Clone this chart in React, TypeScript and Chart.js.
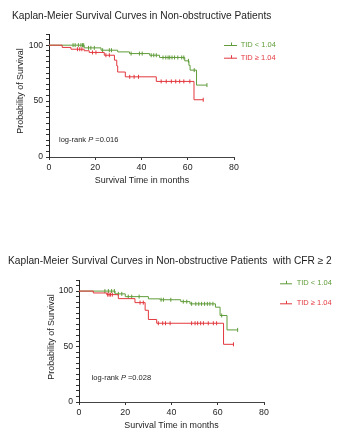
import React, { useEffect, useRef } from "react";
import { Chart, registerables } from "chart.js";

Chart.register(...registerables);

const FONT = '"Liberation Sans", Arial, Helvetica, sans-serif';
const GREEN = "rgb(96,156,58)";
const RED = "rgb(226,56,62)";
const TEXT = "#1e1e1e";

// ---------- shared axis data ----------
const xTickValues = [0, 20, 40, 60, 80];
const yLabelValues = [0, 50, 100];
const seriesLabels = ["TID < 1.04", "TID \u2265 1.04"];
const xAxisTitle = "Survival Time in months";
const yAxisTitle = "Probability of Survival";

// ---------- chart 1: Non-obstructive patients ----------
const title1 = "Kaplan-Meier Survival Curves in Non-obstructive Patients";
const logRank1 = "0.016";
const c1LowTimes = [0, 15.2, 22.5, 29.7, 34.8, 43.5, 47.8, 58.7, 60.5, 61, 63.8, 68.3];
const c1LowSurv = [100, 97.6, 95.5, 94, 92.5, 91, 89, 86, 82, 77.7, 64.3, 64.3];
const c1LowCensor = [10.4, 11.3, 12.7, 13.8, 14.5, 15.0, 17.1, 18.1, 19.6, 23.2, 26.1, 27, 35.5, 39.1, 40.3, 44.2, 45.3, 46.4, 49.3, 50.5, 51.5, 52.2, 53.2, 54.3, 55.7, 57.4, 58.3, 60.3, 62.8, 68.3];
const c1HighTimes = [0, 5.7, 9.5, 15.2, 17.4, 23.9, 28.3, 29.3, 29.7, 33, 46.4, 62.7, 66.7];
const c1HighSurv = [100, 98, 96.4, 95, 93.5, 91, 86.6, 81.5, 76, 71.7, 67.6, 51.2, 51.2];
const c1HighCensor = [12.3, 13.3, 14.2, 18.8, 20.3, 24.6, 26.1, 34.9, 36.8, 38.7, 48.5, 50.7, 52.9, 54.8, 56.5, 58.3, 60.9, 66.7];

// ---------- chart 2: Non-obstructive patients with CFR >= 2 ----------
const title2 = "Kaplan-Meier Survival Curves in Non-obstructive Patients  with CFR \u2265 2";
const logRank2 = "0.028";
const c2LowTimes = [0, 15.6, 20, 30, 35, 44, 48, 59, 61, 64, 68.6];
const c2LowSurv = [100, 97.5, 95, 93, 92.2, 90.5, 88.5, 85.5, 78, 65, 65];
const c2LowCensor = [11.2, 12.7, 14.1, 15.3, 17, 18.5, 21.3, 22.8, 26, 35.5, 36.5, 39.7, 45.1, 46.6, 48.7, 50.5, 51.8, 53, 54.3, 55.5, 56.6, 57.9, 61.7, 68.6];
const c2HighTimes = [0, 6.2, 12, 17, 24.2, 28.6, 30, 33.6, 62.5, 66.8];
const c2HighSurv = [100, 98.3, 96.8, 93.2, 89.6, 82.7, 74.4, 71, 52, 52];
const c2HighCensor = [12.4, 13, 13.6, 14.4, 26.4, 27.8, 34.3, 36.2, 37.4, 39.4, 48.7, 50.2, 51.3, 52.6, 53.8, 55.9, 58.1, 59.5, 66.8];

function stepAt(times: number[], surv: number[], t: number) {
  let v = surv[0];
  for (let i = 0; i < times.length; i++) if (times[i] <= t) v = surv[i];
  return v;
}

type Layout = {
  top: number;
  height: number;
  areaLeft: number;
  areaRight: number;
  areaTop: number;
  areaBottom: number;
  title: string;
  titleX: number;
  titleY: number;
  yLabelX: number;
  yLabelY: number;
  xLabelX: number;
  xLabelY: number;
  logRank: string;
  logX: number;
  logY: number;
  legX0: number;
  legX1: number;
  legTextX: number;
  legY1: number;
  legY2: number;
};

type Series = {
  lowT: number[];
  lowS: number[];
  lowC: number[];
  highT: number[];
  highS: number[];
  highC: number[];
};

function textPlugin(L: Layout) {
  return {
    id: "kmText",
    afterDraw(chart: any) {
      const ctx: CanvasRenderingContext2D = chart.ctx;
      ctx.save();
      // title
      ctx.fillStyle = TEXT;
      ctx.font = `10.2px ${FONT}`;
      ctx.textAlign = "left";
      ctx.textBaseline = "alphabetic";
      ctx.fillText(L.title, L.titleX, L.titleY);
      // y axis title
      ctx.save();
      ctx.translate(L.yLabelX, L.yLabelY);
      ctx.rotate(-Math.PI / 2);
      ctx.font = `8.9px ${FONT}`;
      ctx.textAlign = "center";
      ctx.textBaseline = "middle";
      ctx.fillText(yAxisTitle, 0, 0);
      ctx.restore();
      // x axis title
      ctx.font = `8.9px ${FONT}`;
      ctx.textAlign = "center";
      ctx.textBaseline = "middle";
      ctx.fillText(xAxisTitle, L.xLabelX, L.xLabelY);
      // log-rank
      ctx.textAlign = "left";
      ctx.textBaseline = "middle";
      let x = L.logX;
      const parts: [string, boolean][] = [["log-rank ", false], ["P", true], [" =" + L.logRank, false]];
      for (const [s, it] of parts) {
        ctx.font = `${it ? "italic " : ""}7.5px ${FONT}`;
        ctx.fillText(s, x, L.logY);
        x += ctx.measureText(s).width;
      }
      // legend
      const rows: [string, string, number][] = [
        [seriesLabels[0], GREEN, L.legY1],
        [seriesLabels[1], RED, L.legY2],
      ];
      for (const [label, col, y] of rows) {
        ctx.strokeStyle = col;
        ctx.lineWidth = 1;
        ctx.beginPath();
        ctx.moveTo(L.legX0, y + 0.5);
        ctx.lineTo(L.legX1, y + 0.5);
        const mid = Math.round((L.legX0 + L.legX1) / 2) + 0.5;
        ctx.moveTo(mid, y - 2.5);
        ctx.lineTo(mid, y + 0.5);
        ctx.stroke();
        ctx.fillStyle = col;
        ctx.font = `7.5px ${FONT}`;
        ctx.textAlign = "left";
        ctx.textBaseline = "middle";
        ctx.fillText(label, L.legTextX, y);
      }
      ctx.restore();
    },
  };
}

function KMChart({ L, S }: { L: Layout; S: Series }) {
  const ref = useRef<HTMLCanvasElement>(null);
  useEffect(() => {
    const toPts = (t: number[], s: number[]) => t.map((x, i) => ({ x, y: s[i] }));
    const censorPts = (t: number[], s: number[], c: number[]) => c.map((x) => ({ x, y: stepAt(t, s, x) }));
    const curve = (pts: any[], col: string) => ({
      data: pts,
      borderColor: col,
      borderWidth: 1,
      pointRadius: 0,
      stepped: true,
      fill: false,
      tension: 0,
    });
    const censor = (pts: any[], col: string) => ({
      data: pts,
      showLine: false,
      pointStyle: "line",
      rotation: 90,
      pointRadius: 2,
      pointBorderWidth: 1,
      pointBorderColor: col,
      pointBackgroundColor: col,
      borderColor: col,
    });
    const chart = new Chart(ref.current as HTMLCanvasElement, {
      type: "line",
      data: {
        datasets: [
          curve(toPts(S.highT, S.highS), RED),
          censor(censorPts(S.highT, S.highS, S.highC), RED),
          curve(toPts(S.lowT, S.lowS), GREEN),
          censor(censorPts(S.lowT, S.lowS, S.lowC), GREEN),
        ] as any,
      },
      options: {
        animation: false,
        responsive: false,
        devicePixelRatio: 1,
        events: [],
        layout: {
          padding: { left: 0, top: L.areaTop, right: 345 - L.areaRight, bottom: 0 },
        },
        plugins: { legend: { display: false }, tooltip: { enabled: false }, title: { display: false } },
        scales: {
          x: {
            type: "linear",
            min: 0,
            max: 80,
            afterBuildTicks: (s: any) => {
              s.ticks = xTickValues.map((v) => ({ value: v }));
            },
            afterFit: (s: any) => {
              s.height = L.height - L.areaBottom;
            },
            ticks: { color: TEXT, font: { size: 8.8, family: FONT }, padding: 2, maxRotation: 0 },
            grid: { drawOnChartArea: false, drawTicks: true, tickLength: 3, color: "#333", tickWidth: 1 },
            border: { display: true, color: "#444", width: 1 },
          },
          y: {
            type: "linear",
            min: 0,
            max: 110,
            ticks: {
              stepSize: 5,
              autoSkip: false,
              color: TEXT,
              font: { size: 8.6, family: FONT },
              padding: 3,
              callback: (v: any) => (yLabelValues.includes(Number(v)) ? String(v) : ""),
            },
            afterFit: (s: any) => {
              s.width = L.areaLeft;
            },
            grid: { drawOnChartArea: false, drawTicks: true, tickLength: 3, color: "#333", tickWidth: 1 },
            border: { display: true, color: "#222", width: 1 },
          },
        },
      } as any,
      plugins: [textPlugin(L) as any],
    });
    return () => chart.destroy();
  }, []);
  return (
    <canvas
      ref={ref}
      width={345}
      height={L.height}
      style={{ position: "absolute", left: 0, top: L.top, width: 345, height: L.height }}
    />
  );
}

const layout1: Layout = {
  top: 0,
  height: 210,
  areaLeft: 49,
  areaRight: 234,
  areaTop: 34,
  areaBottom: 157,
  title: title1,
  titleX: 12,
  titleY: 18.5,
  yLabelX: 20.5,
  yLabelY: 91,
  xLabelX: 142,
  xLabelY: 181,
  logRank: logRank1,
  logX: 59,
  logY: 139.5,
  legX0: 224,
  legX1: 237,
  legTextX: 240.7,
  legY1: 45,
  legY2: 57.7,
};

const layout2: Layout = {
  top: 220,
  height: 220,
  areaLeft: 79,
  areaRight: 264,
  areaTop: 60,
  areaBottom: 182,
  title: title2,
  titleX: 8,
  titleY: 43.5,
  yLabelX: 51.5,
  yLabelY: 117,
  xLabelX: 171.5,
  xLabelY: 206,
  logRank: logRank2,
  logX: 91.7,
  logY: 157.9,
  legX0: 280,
  legX1: 292,
  legTextX: 296.7,
  legY1: 63.3,
  legY2: 83.3,
};

export default function App() {
  return (
    <div style={{ position: "absolute", left: 0, top: 0, width: 345, height: 440, background: "#fff" }}>
      <KMChart L={layout1} S={{ lowT: c1LowTimes, lowS: c1LowSurv, lowC: c1LowCensor, highT: c1HighTimes, highS: c1HighSurv, highC: c1HighCensor }} />
      <KMChart L={layout2} S={{ lowT: c2LowTimes, lowS: c2LowSurv, lowC: c2LowCensor, highT: c2HighTimes, highS: c2HighSurv, highC: c2HighCensor }} />
    </div>
  );
}
